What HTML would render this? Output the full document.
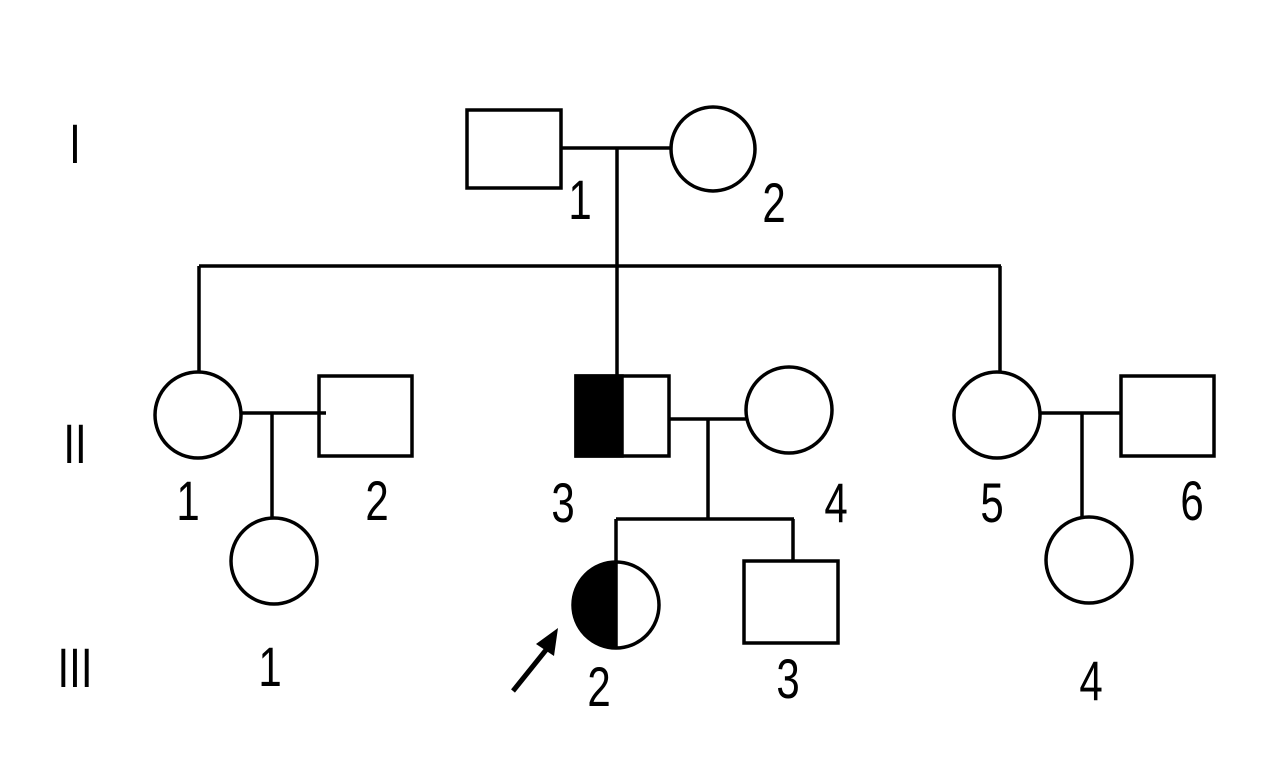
<!DOCTYPE html>
<html><head><meta charset="utf-8"><style>
html,body{margin:0;padding:0;background:#fff;width:1280px;height:768px;overflow:hidden}
text{font-family:"Liberation Sans",sans-serif;font-size:56px;fill:#000}
</style></head><body>
<svg width="1280" height="768" viewBox="0 0 1280 768" xmlns="http://www.w3.org/2000/svg">
<g stroke="#000" stroke-width="3.5" fill="none">
<!-- Gen I -->
<rect x="467" y="110" width="94" height="78" fill="#fff"/>
<circle cx="713" cy="149" r="42" fill="#fff"/>
<line x1="561" y1="148" x2="671" y2="148"/>
<line x1="617" y1="148" x2="617" y2="376"/>
<line x1="199" y1="266" x2="1001" y2="266"/>
<line x1="199" y1="266" x2="199" y2="372"/>
<line x1="1000" y1="266" x2="1000" y2="372"/>
<!-- II-1,2 -->
<circle cx="198" cy="415" r="43" fill="#fff"/>
<rect x="319" y="376" width="93" height="80" fill="#fff"/>
<line x1="241" y1="413" x2="326" y2="413"/>
<line x1="272" y1="413" x2="272" y2="517"/>
<circle cx="274" cy="561" r="43" fill="#fff"/>
<!-- II-3,4 -->
<rect x="576" y="376" width="93" height="80" fill="#fff"/>
<rect x="576" y="376" width="46" height="80" fill="#000"/>
<circle cx="789" cy="410" r="43" fill="#fff"/>
<line x1="669" y1="419" x2="746" y2="419"/>
<line x1="708" y1="419" x2="708" y2="519"/>
<line x1="616" y1="519" x2="794" y2="519"/>
<line x1="616" y1="519" x2="616" y2="562"/>
<line x1="793" y1="519" x2="793" y2="561"/>
<circle cx="616" cy="605" r="43" fill="#fff"/>
<path d="M616 562 A43 43 0 0 0 616 648 Z" fill="#000" stroke="none"/>
<line x1="616" y1="562" x2="616" y2="648"/>
<rect x="744" y="561" width="94" height="82" fill="#fff"/>
<!-- II-5,6 -->
<circle cx="997" cy="415" r="43" fill="#fff"/>
<rect x="1121" y="376" width="93" height="80" fill="#fff"/>
<line x1="1040" y1="413" x2="1121" y2="413"/>
<line x1="1082" y1="413" x2="1082" y2="517"/>
<circle cx="1089" cy="560" r="43" fill="#fff"/>
<!-- arrow -->
<line x1="513" y1="691" x2="550" y2="645" stroke-width="5"/>
</g>
<polygon points="558,628 536,644 554,656" fill="#000"/>
<g>
<text transform="translate(75,163) scale(0.75,1)" text-anchor="middle">I</text>
<text transform="translate(75,463) scale(0.75,1)" text-anchor="middle">II</text>
<text transform="translate(75,687) scale(0.75,1)" text-anchor="middle">III</text>
<text transform="translate(580,219) scale(0.75,1)" text-anchor="middle">1</text>
<text transform="translate(774,222) scale(0.75,1)" text-anchor="middle">2</text>
<text transform="translate(188,520) scale(0.75,1)" text-anchor="middle">1</text>
<text transform="translate(377,520) scale(0.75,1)" text-anchor="middle">2</text>
<text transform="translate(563,522) scale(0.75,1)" text-anchor="middle">3</text>
<text transform="translate(836,522) scale(0.75,1)" text-anchor="middle">4</text>
<text transform="translate(992,522) scale(0.75,1)" text-anchor="middle">5</text>
<text transform="translate(1192,520) scale(0.75,1)" text-anchor="middle">6</text>
<text transform="translate(270,686) scale(0.75,1)" text-anchor="middle">1</text>
<text transform="translate(599,706) scale(0.75,1)" text-anchor="middle">2</text>
<text transform="translate(788,698) scale(0.75,1)" text-anchor="middle">3</text>
<text transform="translate(1091,700) scale(0.75,1)" text-anchor="middle">4</text>
</g>
</svg>
</body></html>
